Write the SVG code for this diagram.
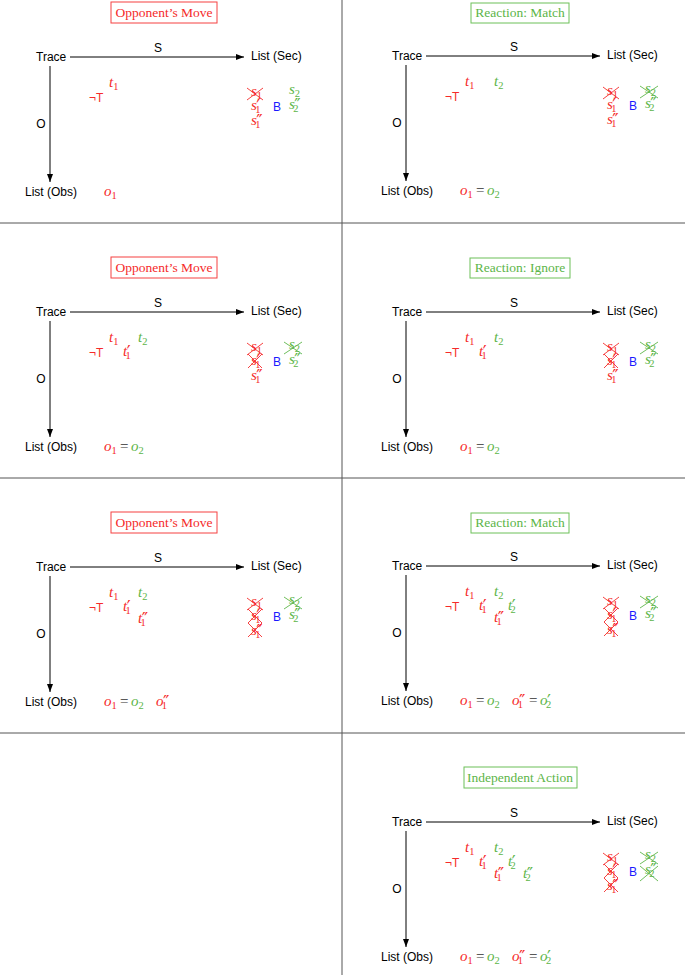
<svg xmlns="http://www.w3.org/2000/svg" width="685" height="975" viewBox="0 0 685 975">
<style>
.lbl{font-family:"Liberation Sans",Arial,sans-serif;font-size:12px;fill:#000}
.ttl{font-family:"Liberation Serif","Times New Roman",serif;font-size:13.5px;text-anchor:middle}
.mv{font-family:"Liberation Serif","Times New Roman",serif;font-size:15px;font-style:italic}
.eq{font-family:"Liberation Serif","Times New Roman",serif;font-size:15px;fill:#333}
.sb{font-size:10.5px;font-style:normal}
.pr{font-family:"DejaVu Sans",sans-serif;font-size:17px;font-style:normal}
.r{fill:#f52a2a}.g{fill:#5cb548}.b{fill:#1a1aff}
.br{fill:#fff;stroke:#f54040;stroke-width:1}.bg{fill:#fff;stroke:#6cc058;stroke-width:1}
.xr{stroke:#f52a2a;stroke-width:0.9}.xg{stroke:#5cb548;stroke-width:0.9}
.grid{stroke:#555;stroke-width:1}
.arr{stroke:#000;stroke-width:1;fill:none;marker-end:url(#ah)}
</style>
<defs>
<marker id="ah" markerUnits="userSpaceOnUse" markerWidth="8" markerHeight="6" refX="8" refY="3" orient="auto"><path d="M0,0 L8,3 L0,6 z" fill="#000"/></marker>
</defs>
<rect width="685" height="975" fill="#fff"/>
<g id="grid">
<line class="grid" x1="342" y1="0" x2="342" y2="975"/>
<line class="grid" x1="0" y1="223" x2="685" y2="223"/>
<line class="grid" x1="0" y1="478" x2="685" y2="478"/>
<line class="grid" x1="0" y1="733" x2="685" y2="733"/>
</g>
<g id="connectors">
<g transform="translate(0,0)"><line class="arr" x1="70" y1="57" x2="244" y2="57"/><line class="arr" x1="50" y1="66" x2="50" y2="182"/></g>
<g transform="translate(356,-1)"><line class="arr" x1="70" y1="57" x2="244" y2="57"/><line class="arr" x1="50" y1="66" x2="50" y2="182"/></g>
<g transform="translate(0,255)"><line class="arr" x1="70" y1="57" x2="244" y2="57"/><line class="arr" x1="50" y1="66" x2="50" y2="182"/></g>
<g transform="translate(356,255)"><line class="arr" x1="70" y1="57" x2="244" y2="57"/><line class="arr" x1="50" y1="66" x2="50" y2="182"/></g>
<g transform="translate(0,510)"><line class="arr" x1="70" y1="57" x2="244" y2="57"/><line class="arr" x1="50" y1="66" x2="50" y2="182"/></g>
<g transform="translate(356,509)"><line class="arr" x1="70" y1="57" x2="244" y2="57"/><line class="arr" x1="50" y1="66" x2="50" y2="182"/></g>
<g transform="translate(356,765)"><line class="arr" x1="70" y1="57" x2="244" y2="57"/><line class="arr" x1="50" y1="66" x2="50" y2="182"/></g>
</g>

<!-- Panel 1 -->
<g id="panel1" transform="translate(0,0)">
<g id="p1-title"><rect class="br" x="111" y="2" width="106" height="21"/><text class="ttl r" x="164" y="17">Opponent’s Move</text></g>
<g id="p1-trace"><text class="lbl" x="36" y="61">Trace</text></g>
<g id="p1-sec"><text class="lbl" x="251" y="60">List (Sec)</text></g>
<g id="p1-obs"><text class="lbl" x="25" y="196">List (Obs)</text></g>
<text class="lbl" x="158" y="52" text-anchor="middle">S</text>
<text class="lbl" x="41" y="128" text-anchor="middle">O</text>
<g id="p1-traces">
<text class="lbl r" x="89" y="102">¬T</text>
<text class="mv r" x="109" y="87">t<tspan class="sb" dy="3">1</tspan></text>
</g>
<g id="p1-obsvals"><text class="mv r" x="104" y="196">o<tspan class="sb" dy="3">1</tspan></text></g>
<g id="p1-secvals">
<text class="mv r" x="251" y="96">s<tspan class="sb" dy="3">1</tspan></text>
<line class="xr" x1="247" y1="88" x2="263" y2="100"/><line class="xr" x1="247" y1="100" x2="263" y2="88"/>
<text class="mv r" x="251" y="110">s<tspan class="pr" dx="-0.5" dy="2">′</tspan><tspan class="sb" dx="-5" dy="1">1</tspan></text>
<text class="mv r" x="251" y="125">s<tspan class="pr" dx="-0.5" dy="2">″</tspan><tspan class="sb" dx="-7.5" dy="1">1</tspan></text>
<text class="lbl b" x="273" y="111">B</text>
<text class="mv g" x="289" y="94">s<tspan class="sb" dy="3">2</tspan></text>
<text class="mv g" x="289" y="109">s<tspan class="pr" dx="-0.5" dy="2">″</tspan><tspan class="sb" dx="-7.5" dy="1">2</tspan></text>
</g>
</g>

<!-- Panel 2 -->
<g id="panel2" transform="translate(356,-1)">
<g id="p2-title"><rect class="bg" x="115" y="4" width="98" height="20"/><text class="ttl g" x="164" y="18">Reaction: Match</text></g>
<g id="p2-trace"><text class="lbl" x="36" y="61">Trace</text></g>
<g id="p2-sec"><text class="lbl" x="251" y="60">List (Sec)</text></g>
<g id="p2-obs"><text class="lbl" x="25" y="196">List (Obs)</text></g>
<text class="lbl" x="158" y="52" text-anchor="middle">S</text>
<text class="lbl" x="41" y="128" text-anchor="middle">O</text>
<g id="p2-traces">
<text class="lbl r" x="89" y="102">¬T</text>
<text class="mv r" x="109" y="87">t<tspan class="sb" dy="3">1</tspan></text>
<text class="mv g" x="138" y="87">t<tspan class="sb" dy="3">2</tspan></text>
</g>
<g id="p2-obsvals"><text class="mv r" x="104" y="196">o<tspan class="sb" dy="3">1</tspan></text><text class="eq" x="120" y="196">=</text><text class="mv g" x="131" y="196">o<tspan class="sb" dy="3">2</tspan></text></g>
<g id="p2-secvals">
<text class="mv r" x="251" y="96">s<tspan class="sb" dy="3">1</tspan></text>
<line class="xr" x1="247" y1="88" x2="263" y2="100"/><line class="xr" x1="247" y1="100" x2="263" y2="88"/>
<text class="mv r" x="251" y="110">s<tspan class="pr" dx="-0.5" dy="2">′</tspan><tspan class="sb" dx="-5" dy="1">1</tspan></text>
<text class="mv r" x="251" y="125">s<tspan class="pr" dx="-0.5" dy="2">″</tspan><tspan class="sb" dx="-7.5" dy="1">1</tspan></text>
<text class="lbl b" x="273" y="111">B</text>
<text class="mv g" x="289" y="94">s<tspan class="sb" dy="3">2</tspan></text>
<line class="xg" x1="284" y1="87" x2="302" y2="99"/><line class="xg" x1="284" y1="99" x2="302" y2="87"/>
<text class="mv g" x="289" y="109">s<tspan class="pr" dx="-0.5" dy="2">″</tspan><tspan class="sb" dx="-7.5" dy="1">2</tspan></text>
</g>
</g>

<!-- Panel 3 -->
<g id="panel3" transform="translate(0,255)">
<g id="p3-title"><rect class="br" x="111" y="2" width="106" height="21"/><text class="ttl r" x="164" y="17">Opponent’s Move</text></g>
<g id="p3-trace"><text class="lbl" x="36" y="61">Trace</text></g>
<g id="p3-sec"><text class="lbl" x="251" y="60">List (Sec)</text></g>
<g id="p3-obs"><text class="lbl" x="25" y="196">List (Obs)</text></g>
<text class="lbl" x="158" y="52" text-anchor="middle">S</text>
<text class="lbl" x="41" y="128" text-anchor="middle">O</text>
<g id="p3-traces">
<text class="lbl r" x="89" y="102">¬T</text>
<text class="mv r" x="109" y="87">t<tspan class="sb" dy="3">1</tspan></text>
<text class="mv g" x="138" y="87">t<tspan class="sb" dy="3">2</tspan></text>
<text class="mv r" x="123" y="101">t<tspan class="pr" dx="-0.5" dy="2">′</tspan><tspan class="sb" dx="-5" dy="1">1</tspan></text>
</g>
<g id="p3-obsvals"><text class="mv r" x="104" y="196">o<tspan class="sb" dy="3">1</tspan></text><text class="eq" x="120" y="196">=</text><text class="mv g" x="131" y="196">o<tspan class="sb" dy="3">2</tspan></text></g>
<g id="p3-secvals">
<text class="mv r" x="251" y="96">s<tspan class="sb" dy="3">1</tspan></text>
<line class="xr" x1="247" y1="88" x2="263" y2="100"/><line class="xr" x1="247" y1="100" x2="263" y2="88"/>
<text class="mv r" x="251" y="110">s<tspan class="pr" dx="-0.5" dy="2">′</tspan><tspan class="sb" dx="-5" dy="1">1</tspan></text>
<line class="xr" x1="248" y1="99" x2="262" y2="113"/><line class="xr" x1="248" y1="113" x2="262" y2="99"/>
<text class="mv r" x="251" y="125">s<tspan class="pr" dx="-0.5" dy="2">″</tspan><tspan class="sb" dx="-7.5" dy="1">1</tspan></text>
<text class="lbl b" x="273" y="111">B</text>
<text class="mv g" x="289" y="94">s<tspan class="sb" dy="3">2</tspan></text>
<line class="xg" x1="284" y1="87" x2="302" y2="99"/><line class="xg" x1="284" y1="99" x2="302" y2="87"/>
<text class="mv g" x="289" y="109">s<tspan class="pr" dx="-0.5" dy="2">″</tspan><tspan class="sb" dx="-7.5" dy="1">2</tspan></text>
</g>
</g>

<!-- Panel 4 -->
<g id="panel4" transform="translate(356,255)">
<g id="p4-title"><rect class="bg" x="114" y="3" width="100" height="20"/><text class="ttl g" x="164" y="17">Reaction: Ignore</text></g>
<g id="p4-trace"><text class="lbl" x="36" y="61">Trace</text></g>
<g id="p4-sec"><text class="lbl" x="251" y="60">List (Sec)</text></g>
<g id="p4-obs"><text class="lbl" x="25" y="196">List (Obs)</text></g>
<text class="lbl" x="158" y="52" text-anchor="middle">S</text>
<text class="lbl" x="41" y="128" text-anchor="middle">O</text>
<g id="p4-traces">
<text class="lbl r" x="89" y="102">¬T</text>
<text class="mv r" x="109" y="87">t<tspan class="sb" dy="3">1</tspan></text>
<text class="mv g" x="138" y="87">t<tspan class="sb" dy="3">2</tspan></text>
<text class="mv r" x="123" y="101">t<tspan class="pr" dx="-0.5" dy="2">′</tspan><tspan class="sb" dx="-5" dy="1">1</tspan></text>
</g>
<g id="p4-obsvals"><text class="mv r" x="104" y="196">o<tspan class="sb" dy="3">1</tspan></text><text class="eq" x="120" y="196">=</text><text class="mv g" x="131" y="196">o<tspan class="sb" dy="3">2</tspan></text></g>
<g id="p4-secvals">
<text class="mv r" x="251" y="96">s<tspan class="sb" dy="3">1</tspan></text>
<line class="xr" x1="247" y1="88" x2="263" y2="100"/><line class="xr" x1="247" y1="100" x2="263" y2="88"/>
<text class="mv r" x="251" y="110">s<tspan class="pr" dx="-0.5" dy="2">′</tspan><tspan class="sb" dx="-5" dy="1">1</tspan></text>
<line class="xr" x1="248" y1="99" x2="262" y2="113"/><line class="xr" x1="248" y1="113" x2="262" y2="99"/>
<text class="mv r" x="251" y="125">s<tspan class="pr" dx="-0.5" dy="2">″</tspan><tspan class="sb" dx="-7.5" dy="1">1</tspan></text>
<text class="lbl b" x="273" y="111">B</text>
<text class="mv g" x="289" y="94">s<tspan class="sb" dy="3">2</tspan></text>
<line class="xg" x1="284" y1="87" x2="302" y2="99"/><line class="xg" x1="284" y1="99" x2="302" y2="87"/>
<text class="mv g" x="289" y="109">s<tspan class="pr" dx="-0.5" dy="2">″</tspan><tspan class="sb" dx="-7.5" dy="1">2</tspan></text>
</g>
</g>

<!-- Panel 5 -->
<g id="panel5" transform="translate(0,510)">
<g id="p5-title"><rect class="br" x="111" y="2" width="106" height="21"/><text class="ttl r" x="164" y="17">Opponent’s Move</text></g>
<g id="p5-trace"><text class="lbl" x="36" y="61">Trace</text></g>
<g id="p5-sec"><text class="lbl" x="251" y="60">List (Sec)</text></g>
<g id="p5-obs"><text class="lbl" x="25" y="196">List (Obs)</text></g>
<text class="lbl" x="158" y="52" text-anchor="middle">S</text>
<text class="lbl" x="41" y="128" text-anchor="middle">O</text>
<g id="p5-traces">
<text class="lbl r" x="89" y="102">¬T</text>
<text class="mv r" x="109" y="87">t<tspan class="sb" dy="3">1</tspan></text>
<text class="mv g" x="138" y="87">t<tspan class="sb" dy="3">2</tspan></text>
<text class="mv r" x="123" y="101">t<tspan class="pr" dx="-0.5" dy="2">′</tspan><tspan class="sb" dx="-5" dy="1">1</tspan></text>
<text class="mv r" x="138" y="113">t<tspan class="pr" dx="-0.5" dy="2">″</tspan><tspan class="sb" dx="-7.5" dy="1">1</tspan></text>
</g>
<g id="p5-obsvals"><text class="mv r" x="104" y="196">o<tspan class="sb" dy="3">1</tspan></text><text class="eq" x="120" y="196">=</text><text class="mv g" x="131" y="196">o<tspan class="sb" dy="3">2</tspan></text>
<text class="mv r" x="156" y="196">o<tspan class="pr" dx="-0.5" dy="2">″</tspan><tspan class="sb" dx="-7.5" dy="1">1</tspan></text></g>
<g id="p5-secvals">
<text class="mv r" x="251" y="96">s<tspan class="sb" dy="3">1</tspan></text>
<line class="xr" x1="247" y1="88" x2="263" y2="100"/><line class="xr" x1="247" y1="100" x2="263" y2="88"/>
<text class="mv r" x="251" y="110">s<tspan class="pr" dx="-0.5" dy="2">′</tspan><tspan class="sb" dx="-5" dy="1">1</tspan></text>
<line class="xr" x1="248" y1="99" x2="262" y2="113"/><line class="xr" x1="248" y1="113" x2="262" y2="99"/>
<text class="mv r" x="251" y="125">s<tspan class="pr" dx="-0.5" dy="2">″</tspan><tspan class="sb" dx="-7.5" dy="1">1</tspan></text>
<line class="xr" x1="248" y1="113" x2="262" y2="127"/><line class="xr" x1="248" y1="127" x2="262" y2="113"/>
<text class="lbl b" x="273" y="111">B</text>
<text class="mv g" x="289" y="94">s<tspan class="sb" dy="3">2</tspan></text>
<line class="xg" x1="284" y1="87" x2="302" y2="99"/><line class="xg" x1="284" y1="99" x2="302" y2="87"/>
<text class="mv g" x="289" y="109">s<tspan class="pr" dx="-0.5" dy="2">″</tspan><tspan class="sb" dx="-7.5" dy="1">2</tspan></text>
</g>
</g>

<!-- Panel 6 -->
<g id="panel6" transform="translate(356,509)">
<g id="p6-title"><rect class="bg" x="115" y="4" width="98" height="20"/><text class="ttl g" x="164" y="18">Reaction: Match</text></g>
<g id="p6-trace"><text class="lbl" x="36" y="61">Trace</text></g>
<g id="p6-sec"><text class="lbl" x="251" y="60">List (Sec)</text></g>
<g id="p6-obs"><text class="lbl" x="25" y="196">List (Obs)</text></g>
<text class="lbl" x="158" y="52" text-anchor="middle">S</text>
<text class="lbl" x="41" y="128" text-anchor="middle">O</text>
<g id="p6-traces">
<text class="lbl r" x="89" y="102">¬T</text>
<text class="mv r" x="109" y="87">t<tspan class="sb" dy="3">1</tspan></text>
<text class="mv g" x="138" y="87">t<tspan class="sb" dy="3">2</tspan></text>
<text class="mv r" x="123" y="101">t<tspan class="pr" dx="-0.5" dy="2">′</tspan><tspan class="sb" dx="-5" dy="1">1</tspan></text>
<text class="mv g" x="152" y="101">t<tspan class="pr" dx="-0.5" dy="2">′</tspan><tspan class="sb" dx="-5" dy="1">2</tspan></text>
<text class="mv r" x="138" y="113">t<tspan class="pr" dx="-0.5" dy="2">″</tspan><tspan class="sb" dx="-7.5" dy="1">1</tspan></text>
</g>
<g id="p6-obsvals"><text class="mv r" x="104" y="196">o<tspan class="sb" dy="3">1</tspan></text><text class="eq" x="120" y="196">=</text><text class="mv g" x="131" y="196">o<tspan class="sb" dy="3">2</tspan></text>
<text class="mv r" x="156" y="196">o<tspan class="pr" dx="-0.5" dy="2">″</tspan><tspan class="sb" dx="-7.5" dy="1">1</tspan></text><text class="eq" x="173" y="196">=</text><text class="mv g" x="184" y="196">o<tspan class="pr" dx="-0.5" dy="2">′</tspan><tspan class="sb" dx="-5" dy="1">2</tspan></text></g>
<g id="p6-secvals">
<text class="mv r" x="251" y="96">s<tspan class="sb" dy="3">1</tspan></text>
<line class="xr" x1="247" y1="88" x2="263" y2="100"/><line class="xr" x1="247" y1="100" x2="263" y2="88"/>
<text class="mv r" x="251" y="110">s<tspan class="pr" dx="-0.5" dy="2">′</tspan><tspan class="sb" dx="-5" dy="1">1</tspan></text>
<line class="xr" x1="248" y1="99" x2="262" y2="113"/><line class="xr" x1="248" y1="113" x2="262" y2="99"/>
<text class="mv r" x="251" y="125">s<tspan class="pr" dx="-0.5" dy="2">″</tspan><tspan class="sb" dx="-7.5" dy="1">1</tspan></text>
<line class="xr" x1="248" y1="113" x2="262" y2="127"/><line class="xr" x1="248" y1="127" x2="262" y2="113"/>
<text class="lbl b" x="273" y="111">B</text>
<text class="mv g" x="289" y="94">s<tspan class="sb" dy="3">2</tspan></text>
<line class="xg" x1="284" y1="87" x2="302" y2="99"/><line class="xg" x1="284" y1="99" x2="302" y2="87"/>
<text class="mv g" x="289" y="109">s<tspan class="pr" dx="-0.5" dy="2">″</tspan><tspan class="sb" dx="-7.5" dy="1">2</tspan></text>
</g>
</g>

<!-- Panel 8 -->
<g id="panel8" transform="translate(356,765)">
<g id="p8-title"><rect class="bg" x="108" y="2" width="113" height="21"/><text class="ttl g" x="164" y="17">Independent Action</text></g>
<g id="p8-trace"><text class="lbl" x="36" y="61">Trace</text></g>
<g id="p8-sec"><text class="lbl" x="251" y="60">List (Sec)</text></g>
<g id="p8-obs"><text class="lbl" x="25" y="196">List (Obs)</text></g>
<text class="lbl" x="158" y="52" text-anchor="middle">S</text>
<text class="lbl" x="41" y="128" text-anchor="middle">O</text>
<g id="p8-traces">
<text class="lbl r" x="89" y="102">¬T</text>
<text class="mv r" x="109" y="87">t<tspan class="sb" dy="3">1</tspan></text>
<text class="mv g" x="138" y="87">t<tspan class="sb" dy="3">2</tspan></text>
<text class="mv r" x="123" y="101">t<tspan class="pr" dx="-0.5" dy="2">′</tspan><tspan class="sb" dx="-5" dy="1">1</tspan></text>
<text class="mv g" x="152" y="101">t<tspan class="pr" dx="-0.5" dy="2">′</tspan><tspan class="sb" dx="-5" dy="1">2</tspan></text>
<text class="mv r" x="138" y="113">t<tspan class="pr" dx="-0.5" dy="2">″</tspan><tspan class="sb" dx="-7.5" dy="1">1</tspan></text>
<text class="mv g" x="167" y="113">t<tspan class="pr" dx="-0.5" dy="2">″</tspan><tspan class="sb" dx="-7.5" dy="1">2</tspan></text>
</g>
<g id="p8-obsvals"><text class="mv r" x="104" y="196">o<tspan class="sb" dy="3">1</tspan></text><text class="eq" x="120" y="196">=</text><text class="mv g" x="131" y="196">o<tspan class="sb" dy="3">2</tspan></text>
<text class="mv r" x="156" y="196">o<tspan class="pr" dx="-0.5" dy="2">″</tspan><tspan class="sb" dx="-7.5" dy="1">1</tspan></text><text class="eq" x="173" y="196">=</text><text class="mv g" x="184" y="196">o<tspan class="pr" dx="-0.5" dy="2">′</tspan><tspan class="sb" dx="-5" dy="1">2</tspan></text></g>
<g id="p8-secvals">
<text class="mv r" x="251" y="96">s<tspan class="sb" dy="3">1</tspan></text>
<line class="xr" x1="247" y1="88" x2="263" y2="100"/><line class="xr" x1="247" y1="100" x2="263" y2="88"/>
<text class="mv r" x="251" y="110">s<tspan class="pr" dx="-0.5" dy="2">′</tspan><tspan class="sb" dx="-5" dy="1">1</tspan></text>
<line class="xr" x1="248" y1="99" x2="262" y2="113"/><line class="xr" x1="248" y1="113" x2="262" y2="99"/>
<text class="mv r" x="251" y="125">s<tspan class="pr" dx="-0.5" dy="2">″</tspan><tspan class="sb" dx="-7.5" dy="1">1</tspan></text>
<line class="xr" x1="248" y1="113" x2="262" y2="127"/><line class="xr" x1="248" y1="127" x2="262" y2="113"/>
<text class="lbl b" x="273" y="111">B</text>
<text class="mv g" x="289" y="94">s<tspan class="sb" dy="3">2</tspan></text>
<line class="xg" x1="284" y1="87" x2="302" y2="99"/><line class="xg" x1="284" y1="99" x2="302" y2="87"/>
<text class="mv g" x="289" y="109">s<tspan class="pr" dx="-0.5" dy="2">″</tspan><tspan class="sb" dx="-7.5" dy="1">2</tspan></text>
<line class="xg" x1="284" y1="101" x2="302" y2="116"/><line class="xg" x1="284" y1="116" x2="302" y2="101"/>
</g>
</g>
</svg>
